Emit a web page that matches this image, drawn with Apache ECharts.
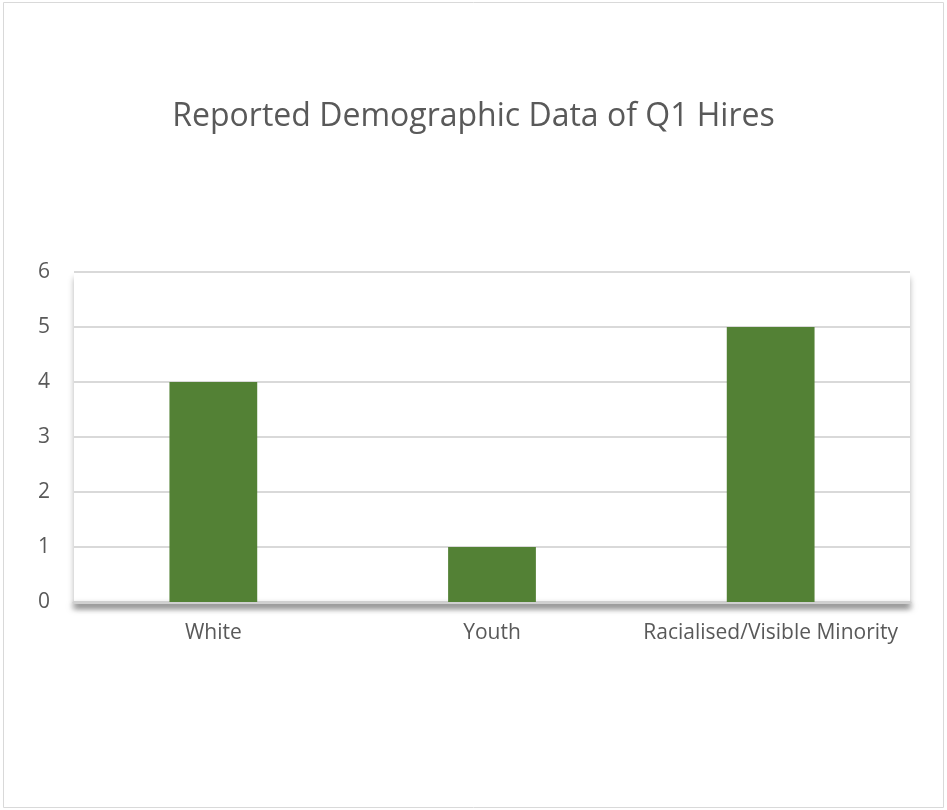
<!DOCTYPE html>
<html>
<head>
    <meta charset="utf-8">
    <title>Reported Demographic Data of Q1 Hires</title>
    <script src="https://cdn.jsdelivr.net/npm/echarts@6/dist/echarts.min.js"></script>
    <style>
        html, body { margin: 0; padding: 0; background: #fff; }
        #main { width: 947px; height: 810px; }
    </style>
</head>
<body>
<div id="main"></div>
<script type="text/javascript">
    // data
    var categories = ['White', 'Youth', 'Racialised/Visible Minority'];
    var hires = [4, 1, 5];
    var yTicks = [0, 1, 2, 3, 4, 5, 6];

    var myChart = echarts.init(document.getElementById('main'));

    var option = {
        animation: false,
        textStyle: { fontFamily: 'Open Sans' },
        title: {
            text: 'Reported Demographic Data of Q1 Hires',
            left: 'center',
            top: 96,
            textStyle: { fontSize: 32, fontWeight: 'normal', color: '#595959', fontFamily: 'Open Sans' }
        },
        graphic: [{
            type: 'rect',
            shape: { x: 3.5, y: 2.5, width: 940, height: 805 },
            style: { fill: 'none', stroke: '#d9d9d9', lineWidth: 1 },
            z: -10
        }],
        grid: {
            left: 74, right: 37, top: 272, bottom: 208,
            show: true,
            borderWidth: 0,
            backgroundColor: '#fff',
            shadowColor: 'rgba(0,0,0,0.3)',
            shadowBlur: 6,
            shadowOffsetY: 6
        },
        xAxis: {
            type: 'category',
            data: categories,
            axisTick: { show: false },
            axisLine: {
                lineStyle: {
                    color: '#d0d0d0', width: 3,
                    shadowColor: 'rgba(0,0,0,0.55)', shadowBlur: 6, shadowOffsetY: 4
                }
            },
            axisLabel: { color: '#595959', fontSize: 21, margin: 21, interval: 0, hideOverlap: false }
        },
        yAxis: {
            type: 'value',
            min: yTicks[0],
            max: yTicks[yTicks.length - 1],
            interval: 1,
            axisLine: { show: false },
            axisTick: { show: false },
            axisLabel: { color: '#595959', fontSize: 21, margin: 24 },
            splitLine: { lineStyle: { color: '#d9d9d9', width: 2 } }
        },
        series: [{
            name: 'Hires',
            type: 'bar',
            data: hires,
            barWidth: '31.5%',
            itemStyle: { color: '#538135' }
        }]
    };
    myChart.setOption(option);
</script>
</body>
</html>
